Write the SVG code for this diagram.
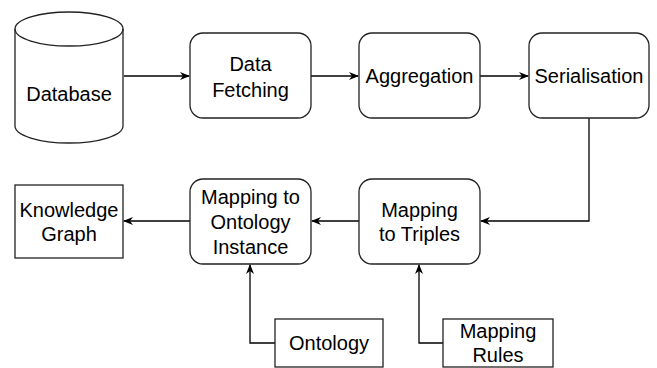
<svg xmlns="http://www.w3.org/2000/svg" width="657" height="368" viewBox="0 0 657 368">
<defs>
<marker id="arr" viewBox="0 0 10 10" refX="9" refY="5" markerWidth="10" markerHeight="10" markerUnits="userSpaceOnUse" orient="auto">
<path d="M0,1 L10,5 L0,9 L3,5 Z" fill="#000"/>
</marker>
</defs>
<style>
.box{fill:#fff;stroke:#222;stroke-width:1.3}
.t{font-family:"Liberation Sans",Arial,sans-serif;font-size:20px;fill:#000;text-anchor:middle}
.c{fill:none;stroke:#000;stroke-width:1.3;marker-end:url(#arr)}
</style>
<rect width="657" height="368" fill="#fff"/>
<g id="connectors">
<path class="c" d="M124,76 L189,76"/>
<path class="c" d="M311,76 L358,76"/>
<path class="c" d="M480,76 L528,76"/>
<path class="c" d="M589,118 L589,221 L481,221"/>
<path class="c" d="M359,221 L312,221"/>
<path class="c" d="M190,221 L124,221"/>
<path class="c" d="M275,343 L250,343 L250,265"/>
<path class="c" d="M443,343 L419,343 L419,265"/>
</g>
<g id="database">
<path class="box" d="M15,29 A54,17 0 0 1 123,29 L123,126 A54,17 0 0 1 15,126 Z"/>
<path d="M15,29 A54,17 0 0 0 123,29" fill="none" stroke="#222" stroke-width="1.3"/>
<text class="t" x="69" y="101">Database</text>
</g>
<g id="data-fetching">
<rect class="box" x="190" y="33" width="121" height="85" rx="13"/>
<text class="t" x="250.5" y="71">Data</text>
<text class="t" x="250.5" y="97">Fetching</text>
</g>
<g id="aggregation">
<rect class="box" x="359" y="33" width="121" height="85" rx="13"/>
<text class="t" x="419.5" y="83">Aggregation</text>
</g>
<g id="serialisation">
<rect class="box" x="529" y="33" width="120" height="85" rx="13"/>
<text class="t" x="589" y="83">Serialisation</text>
</g>
<g id="mapping-to-triples">
<rect class="box" x="359" y="179" width="121" height="85" rx="13"/>
<text class="t" x="419.5" y="217">Mapping</text>
<text class="t" x="419.5" y="241">to Triples</text>
</g>
<g id="mapping-to-ontology-instance">
<rect class="box" x="190" y="179" width="121" height="85" rx="13"/>
<text class="t" x="250.5" y="204">Mapping to</text>
<text class="t" x="250.5" y="229">Ontology</text>
<text class="t" x="250.5" y="254">Instance</text>
</g>
<g id="knowledge-graph">
<rect class="box" x="15" y="185" width="108" height="73"/>
<text class="t" x="69" y="217">Knowledge</text>
<text class="t" x="69" y="241">Graph</text>
</g>
<g id="ontology">
<rect class="box" x="275" y="319" width="108" height="48"/>
<text class="t" x="329" y="350">Ontology</text>
</g>
<g id="mapping-rules">
<rect class="box" x="443" y="319" width="110" height="48"/>
<text class="t" x="498" y="338">Mapping</text>
<text class="t" x="498" y="362">Rules</text>
</g>
</svg>
